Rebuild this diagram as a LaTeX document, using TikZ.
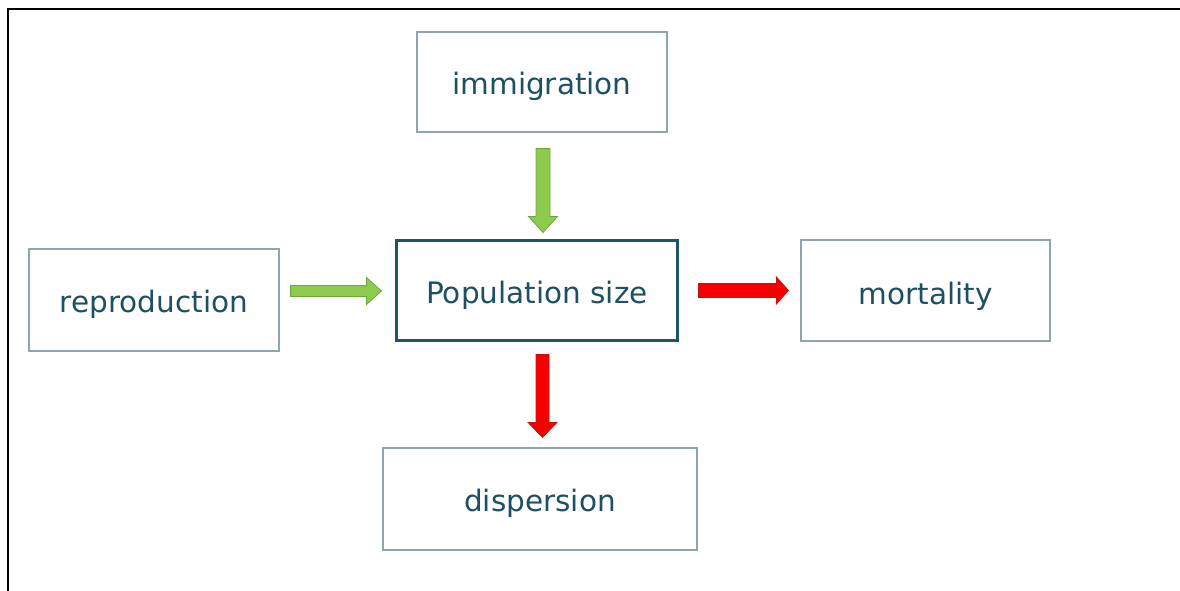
\documentclass[tikz,border=0pt]{standalone}
\usepackage{fontspec}
\setmainfont{DejaVu Sans}
\usetikzlibrary{calc}
\definecolor{txt}{HTML}{1D5062}
\definecolor{bx}{HTML}{8FA5AE}
\definecolor{popb}{HTML}{1F5568}
\definecolor{agreen}{HTML}{8DCB4F}
\definecolor{agreenl}{HTML}{6EA83C}
\definecolor{ared}{HTML}{F80000}
\definecolor{aredl}{HTML}{C81010}
\begin{document}
\begin{tikzpicture}[x=1pt,y=-1pt,
  box/.style={draw=bx, line width=1.2pt, text=txt, inner sep=0pt,
    text height=28pt, text depth=3pt,
    font=\fontsize{29.5}{35}\selectfont},
  popbox/.style={box, draw=popb, line width=3pt},
  gfill/.style={fill=agreen, draw=agreenl, line width=0.8pt, line join=miter},
  rfill/.style={fill=ared, draw=aredl, line width=0.8pt, line join=miter},
  harrow/.style n args={3}{to path={
    ($(\tikztostart)+(0,-#1)$) -- ($(\tikztotarget)+(-#3,-#1)$) -- ($(\tikztotarget)+(-#3,-#2)$)
    -- (\tikztotarget) -- ($(\tikztotarget)+(-#3,#2)$) -- ($(\tikztotarget)+(-#3,#1)$)
    -- ($(\tikztostart)+(0,#1)$) -- cycle}},
  varrow/.style n args={3}{to path={
    ($(\tikztostart)+(-#1,0)$) -- ($(\tikztotarget)+(-#1,-#3)$) -- ($(\tikztotarget)+(-#2,-#3)$)
    -- (\tikztotarget) -- ($(\tikztotarget)+(#2,-#3)$) -- ($(\tikztotarget)+(#1,-#3)$)
    -- ($(\tikztostart)+(#1,0)$) -- cycle}}]
\useasboundingbox (0,0) rectangle (1180,591);
\draw[line width=2pt] (8,591) |- (1180,9);
\node[box, minimum width=250pt, minimum height=100pt] (immig) at (542,82) {immigration};
\node[box, minimum width=250pt, minimum height=102pt] (repro) at (154,300) {reproduction};
\node[box, minimum width=249pt, minimum height=101pt, text height=31pt] (mort) at (925.5,290.5) {mortality};
\node[popbox, minimum width=281pt, minimum height=100pt] (pop) at (537,290.5) {Population size};
\node[box, minimum width=314pt, minimum height=102pt] (disp) at (540,499) {dispersion};
% connector end points
\coordinate (rS) at ($(repro.east |- pop.west)+(11,0.5)$);
\coordinate (rT) at ($(pop.west)+(-13.5,0.5)$);
\coordinate (iS) at ($(immig.south)+(1,16)$);
\coordinate (iT) at ($(immig.south |- pop.north)+(1,-6.5)$);
\coordinate (mS) at ($(pop.east)+(19.5,0)$);
\coordinate (mT) at ($(pop.east -| mort.west)+(-12,0)$);
\coordinate (dS) at ($(pop.south -| immig.south)+(0.5,12.5)$);
\coordinate (dT) at ($(disp.north -| immig.south)+(0.5,-10)$);
\draw[gfill, harrow={5.5}{13.5}{15}] (rS) to (rT);
\draw[gfill, varrow={7}{14.5}{16}] (iS) to (iT);
\draw[rfill, harrow={7}{13.5}{12}] (mS) to (mT);
\draw[rfill, varrow={6.5}{14.5}{15}] (dS) to (dT);
\end{tikzpicture}
\end{document}
